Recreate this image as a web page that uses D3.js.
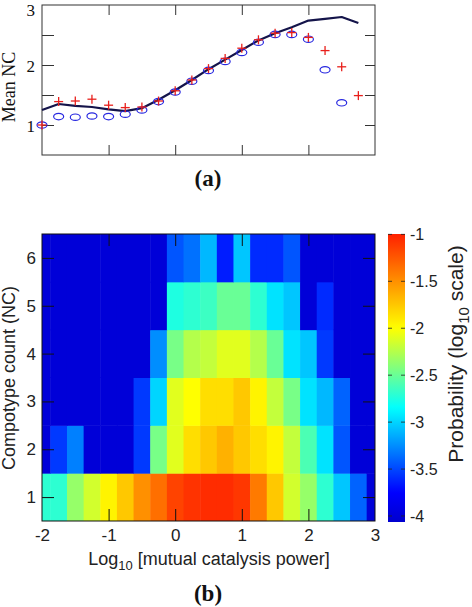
<!DOCTYPE html>
<html><head><meta charset="utf-8">
<script src="https://cdn.jsdelivr.net/npm/d3@7"></script>
<style>body{margin:0;background:#fff} svg{display:block}</style>
</head><body><svg id="c" width="472" height="607"></svg>
<script>
// ---------- Data: panel (a) ----------
const meanX      = [-2,-1.75,-1.5,-1.25,-1,-0.75,-0.5,-0.25,0,0.25,0.5,0.75,1,1.25,1.5,1.75,2,2.25,2.5,2.75];
const meanLine   = [1.25,1.35,1.32,1.30,1.26,1.23,1.28,1.42,1.58,1.75,1.93,2.09,2.25,2.41,2.53,2.63,2.74,2.77,2.80,2.70];
const meanPlus   = [1.00,1.39,1.40,1.43,1.33,1.29,1.30,1.40,1.57,1.75,1.94,2.11,2.28,2.42,2.53,2.54,2.46,2.24,1.97,1.49];
const circleX    = [-2,-1.75,-1.5,-1.25,-1,-0.75,-0.5,-0.25,0,0.25,0.5,0.75,1,1.25,1.5,1.75,2,2.25,2.5];
const meanCircle = [1.00,1.14,1.13,1.15,1.14,1.18,1.25,1.39,1.55,1.73,1.91,2.06,2.21,2.38,2.51,2.51,2.43,1.92,1.37];
const topYTickLabels = [1,2,3];
const topYTicks  = [1,1.5,2,2.5];
const topXTicks  = [-1,0,1,2];

// ---------- Data: panel (b) ----------
const binCenters = [-2,-1.75,-1.5,-1.25,-1,-0.75,-0.5,-0.25,0,0.25,0.5,0.75,1,1.25,1.5,1.75,2,2.25,2.5,2.75,3];
const ncValues   = [1,2,3,4,5,6];
const nc1 = [-2.7,-2.7,-2.35,-2.15,-1.95,-1.75,-1.5,-1.35,-1.15,-1.08,-1.05,-1.05,-1.1,-1.4,-1.75,-2.15,-2.35,-2.7,-3.05,-3.4,-4.0];
const nc2 = [-4.0,-3.55,-3.3,-4.0,-4.0,-4.0,-3.55,-2.45,-2.1,-1.85,-1.75,-1.65,-1.75,-1.85,-1.95,-2.2,-2.6,-2.95,-3.45,-4.0,-4.0];
const nc3 = [-4.0,-4.0,-4.0,-4.0,-4.0,-4.0,-3.55,-3.0,-2.1,-2.0,-1.85,-1.85,-1.75,-1.95,-2.2,-2.45,-2.95,-3.1,-3.4,-4.0,-4.0];
const nc4 = [-4.0,-4.0,-4.0,-4.0,-4.0,-4.0,-4.0,-3.25,-2.45,-2.25,-2.2,-2.1,-2.1,-2.25,-2.5,-2.95,-3.05,-3.55,-4.0,-4.0,-4.0];
const nc5 = [-4.0,-4.0,-4.0,-4.0,-4.0,-4.0,-4.0,-4.0,-2.75,-2.7,-2.65,-2.5,-2.5,-2.7,-2.95,-3.05,-4.0,-3.6,-4.0,-4.0,-4.0];
const nc6 = [-4.0,-4.0,-4.0,-4.0,-4.0,-4.0,-4.0,-4.0,-3.45,-3.35,-3.1,-3.65,-3.05,-3.6,-3.6,-3.45,-4.0,-4.0,-4.0,-4.0,-4.0];
const heatRows = [nc1,nc2,nc3,nc4,nc5,nc6];
const xTickVals   = [-2,-1,0,1,2,3];
const xTickLabels = ["-2","-1","0","1","2","3"];
const yTickLabels = ["1","2","3","4","5","6"];
const cbTicks      = [-1,-1.5,-2,-2.5,-3,-3.5,-4];
const cbTickLabels = ["-1","-1.5","-2","-2.5","-3","-3.5","-4"];
const cbRange = [-4.064,-0.996];

// ---------- Setup ----------
const svg = d3.select("#c");
const serif = "'Liberation Serif','Times New Roman',serif";
const sans  = "'Liberation Sans',Arial,sans-serif";

// ================= Panel (a) =================
const xA = d3.scaleLinear().domain([-2,3]).range([42,375]);
const yA = d3.scaleLinear().domain([0.5,3]).range([155,5]);
const gA = svg.append("g");

function ticksOnly(sel){ sel.select(".domain").remove(); sel.selectAll("line").attr("stroke","#333"); }

gA.append("g").attr("transform",`translate(0,${yA(0.5)})`)
  .call(d3.axisBottom(xA).tickValues(topXTicks).tickSizeInner(-10).tickSizeOuter(0).tickFormat("")).call(ticksOnly);
gA.append("g").attr("transform",`translate(0,${yA(3)})`)
  .call(d3.axisTop(xA).tickValues(topXTicks).tickSizeInner(-10).tickSizeOuter(0).tickFormat("")).call(ticksOnly);
gA.append("g").attr("transform",`translate(${xA(-2)},0)`)
  .call(d3.axisLeft(yA).tickValues(topYTicks).tickSizeInner(-12).tickSizeOuter(0).tickFormat("")).call(ticksOnly);
gA.append("g").attr("transform",`translate(${xA(3)},0)`)
  .call(d3.axisRight(yA).tickValues(topYTicks).tickSizeInner(-10).tickSizeOuter(0).tickFormat("")).call(ticksOnly);
const yLabA = gA.append("g").attr("transform",`translate(${xA(-2)},0)`)
  .call(d3.axisLeft(yA).tickValues(topYTickLabels).tickSize(0).tickPadding(7).tickFormat(d=>String(d)));
yLabA.select(".domain").remove();
yLabA.selectAll("text").attr("font-family",serif).attr("font-size",17).attr("fill","#111")
  .attr("dy",d=>d===3?"0.62em":"0.38em");

gA.append("rect").attr("x",xA(-2)).attr("y",yA(3)).attr("width",xA(3)-xA(-2)).attr("height",yA(0.5)-yA(3))
  .attr("fill","none").attr("stroke","#333").attr("stroke-width",1);

// line
const lineData = meanX.map((x,i)=>({x, y: meanLine[i]}));
gA.append("path").datum(lineData)
  .attr("d", d3.line().x(d=>xA(d.x)).y(d=>yA(d.y)))
  .attr("fill","none").attr("stroke","#14144a").attr("stroke-width",2.2).attr("stroke-linejoin","round");

// circles
gA.selectAll("ellipse.c").data(circleX.map((x,i)=>({x, y: meanCircle[i]}))).join("ellipse")
  .attr("cx",d=>xA(d.x)).attr("cy",d=>yA(d.y)).attr("rx",5).attr("ry",3.2)
  .attr("fill","none").attr("stroke","#2828e0").attr("stroke-width",1.2);

// plus markers
const plusG = gA.selectAll("g.p").data(meanX.map((x,i)=>({x, y: meanPlus[i]}))).join("g")
  .attr("transform",d=>`translate(${xA(d.x)},${yA(d.y)})`);
plusG.append("line").attr("x1",-4.5).attr("x2",4.5).attr("y1",0).attr("y2",0).attr("stroke","#e8201c").attr("stroke-width",1.3);
plusG.append("line").attr("x1",0).attr("x2",0).attr("y1",-4.5).attr("y2",4.5).attr("stroke","#e8201c").attr("stroke-width",1.3);

gA.append("text").attr("transform",`translate(15,87) rotate(-90)`).attr("text-anchor","middle")
  .attr("font-family",serif).attr("font-size",18).attr("fill","#111").text("Mean NC");
gA.append("text").attr("x",208).attr("y",186).attr("text-anchor","middle")
  .attr("font-family",serif).attr("font-size",23).attr("font-weight","bold").attr("fill","#111").text("(a)");

// ================= Panel (b) =================
const xB = d3.scaleLinear().domain([-2,3]).range([42,375]);
const yB = d3.scaleLinear().domain([0.5,6.5]).range([521,234]);
const color = d3.scaleLinear()
  .domain([-4.07,-3.75,-2.85,-2.0,-0.85])
  .range(["#0000cd","#0000ff","#00ffff","#ffff00","#ff0000"])
  .clamp(true);

const defs = svg.append("defs");
defs.append("clipPath").attr("id","hclip").append("rect")
  .attr("x",xB(-2)).attr("y",yB(6.5)).attr("width",xB(3)-xB(-2)).attr("height",yB(0.5)-yB(6.5));

const cells = [];
heatRows.forEach((row,r)=>row.forEach((v,c)=>cells.push({x: binCenters[c], y: ncValues[r], v})));
const gB = svg.append("g");
gB.append("g").attr("clip-path","url(#hclip)").selectAll("rect").data(cells).join("rect")
  .attr("x",d=>xB(d.x-0.125)).attr("y",d=>yB(d.y+0.5))
  .attr("width",d=>xB(d.x+0.125)-xB(d.x-0.125)+0.5).attr("height",d=>yB(d.y-0.5)-yB(d.y+0.5)+0.5)
  .attr("fill",d=>color(d.v));

const tickX = [-1,0,1,2];
gB.append("g").attr("transform",`translate(0,${yB(0.5)})`)
  .call(d3.axisBottom(xB).tickValues(tickX).tickSizeInner(-12).tickSizeOuter(0).tickFormat("")).call(ticksOnly);
gB.append("g").attr("transform",`translate(0,${yB(6.5)})`)
  .call(d3.axisTop(xB).tickValues(tickX).tickSizeInner(-12).tickSizeOuter(0).tickFormat("")).call(ticksOnly);
gB.append("g").attr("transform",`translate(${xB(-2)},0)`)
  .call(d3.axisLeft(yB).tickValues(ncValues).tickSizeInner(-12).tickSizeOuter(0).tickFormat("")).call(ticksOnly);
gB.append("g").attr("transform",`translate(${xB(3)},0)`)
  .call(d3.axisRight(yB).tickValues(ncValues).tickSizeInner(-12).tickSizeOuter(0).tickFormat("")).call(ticksOnly);
gB.selectAll("line").attr("stroke","#111");

gB.append("rect").attr("x",xB(-2)).attr("y",yB(6.5)).attr("width",xB(3)-xB(-2)).attr("height",yB(0.5)-yB(6.5))
  .attr("fill","none").attr("stroke","#111").attr("stroke-width",1);

const xl = gB.append("g").attr("transform",`translate(0,${yB(0.5)})`)
  .call(d3.axisBottom(xB).tickValues(xTickVals).tickSize(0).tickPadding(8).tickFormat((d,i)=>xTickLabels[i]));
xl.select(".domain").remove();
xl.selectAll("text").attr("font-family",sans).attr("font-size",17).attr("fill","#222");
const yl = gB.append("g").attr("transform",`translate(${xB(-2)},0)`)
  .call(d3.axisLeft(yB).tickValues(ncValues).tickSize(0).tickPadding(6).tickFormat((d,i)=>yTickLabels[i]));
yl.select(".domain").remove();
yl.selectAll("text").attr("font-family",sans).attr("font-size",17).attr("fill","#222");

const xt = gB.append("text").attr("x",209).attr("y",565).attr("text-anchor","middle")
  .attr("font-family",sans).attr("font-size",18).attr("fill","#222");
xt.append("tspan").text("Log");
xt.append("tspan").attr("font-size",13).attr("dy",5).text("10");
xt.append("tspan").attr("dy",-5).text(" [mutual catalysis power]");

gB.append("text").attr("transform",`translate(15,378) rotate(-90)`).attr("text-anchor","middle")
  .attr("font-family",sans).attr("font-size",18).attr("fill","#222").text("Compotype count (NC)");

gB.append("text").attr("x",208).attr("y",601).attr("text-anchor","middle")
  .attr("font-family",serif).attr("font-size",23).attr("font-weight","bold").attr("fill","#111").text("(b)");

// ---------- Colorbar ----------
const cbY = d3.scaleLinear().domain(cbRange).range([522,234]);
const cbX0 = 388, cbW = 17;
const grad = defs.append("linearGradient").attr("id","cbgrad").attr("x1",0).attr("y1",1).attr("x2",0).attr("y2",0);
const nStops = 60;
d3.range(nStops+1).forEach(i=>{
  const t = i/nStops;
  const v = cbRange[0] + t*(cbRange[1]-cbRange[0]);
  grad.append("stop").attr("offset",t).attr("stop-color",color(v));
});
const gC = svg.append("g");
gC.append("rect").attr("x",cbX0).attr("y",cbY(cbRange[1])).attr("width",cbW).attr("height",cbY(cbRange[0])-cbY(cbRange[1]))
  .attr("fill","url(#cbgrad)");
gC.selectAll("line.l").data(cbTicks).join("line")
  .attr("x1",cbX0).attr("x2",cbX0+4).attr("y1",d=>cbY(d)).attr("y2",d=>cbY(d)).attr("stroke","#222").attr("stroke-width",0.8);
gC.selectAll("line.r").data(cbTicks).join("line").attr("class","r")
  .attr("x1",cbX0+cbW-4).attr("x2",cbX0+cbW).attr("y1",d=>cbY(d)).attr("y2",d=>cbY(d)).attr("stroke","#222").attr("stroke-width",0.8);
gC.selectAll("text.t").data(cbTicks).join("text")
  .attr("x",cbX0+cbW+5).attr("y",d=>cbY(d)).attr("dy","0.35em")
  .attr("font-family",sans).attr("font-size",16).attr("fill","#222").text((d,i)=>cbTickLabels[i]);

const ct = gC.append("text").attr("transform",`translate(463,354) rotate(-90)`).attr("text-anchor","middle")
  .attr("font-family",sans).attr("font-size",21).attr("fill","#222");
ct.append("tspan").text("Probability (log");
ct.append("tspan").attr("font-size",15).attr("dy",6).text("10");
ct.append("tspan").attr("dy",-6).text(" scale)");
</script>
</body></html>
